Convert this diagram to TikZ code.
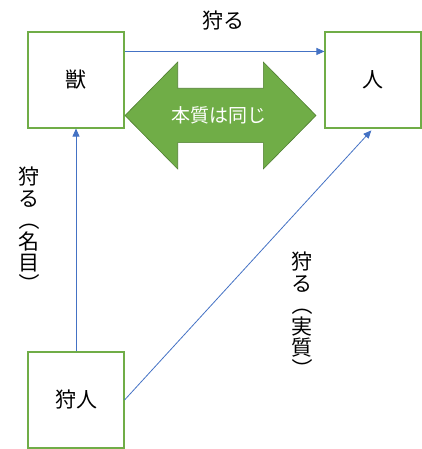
\documentclass[tikz,border=0pt]{standalone}
\usepackage{fontspec}
\setmainfont{Noto Sans CJK JP}
\usepackage{graphicx}
\usetikzlibrary{arrows.meta}
\definecolor{boxgreen}{HTML}{70AD47}
\definecolor{darkgreen}{HTML}{507E32}
\definecolor{arrblue}{HTML}{4472C4}
\newcommand{\vopen}{\rotatebox[origin=c]{-90}{（}}
\newcommand{\vclose}{\rotatebox[origin=c]{-90}{）}}
\begin{document}
\begin{tikzpicture}[x=1pt,y=-1pt,
  box/.style={draw=boxgreen,line width=1.1pt,minimum width=96pt,minimum height=96pt,inner sep=0pt,font=\fontsize{21}{21}\selectfont},
  arr/.style={draw=arrblue,line width=0.8pt,-{Triangle[length=8pt,width=7pt]}},
  lbl/.style={font=\fontsize{21}{21}\selectfont,inner sep=0pt},
  vlbl/.style={font=\fontsize{21}{21.5}\selectfont,align=center,inner sep=0pt}]
\useasboundingbox (0,0) rectangle (422,449);
\node[box] (beast) at (76,80) {獣};
\node[box] (human) at (373,80) {人};
\node[box] (hunter) at (76,400) {狩人};
\draw[arr] ([yshift=-20pt]beast.north east) -- ([yshift=-20pt]human.north west);
\draw[arr] (hunter.north) -- (beast.south);
\draw[arr, shorten >=2.5pt] (hunter.east) -- (human.south);
\node[lbl] (ltop) at (223,21) {狩る};
\node[vlbl] (lleft) at (29,231) {狩\\る\\\vopen\\名\\目\\\vclose};
\node[vlbl] (lright) at (302,316) {狩\\る\\\vopen\\実\\質\\\vclose};
\fill[boxgreen,draw=darkgreen,line width=0.6pt] (125,115.5) -- (177.7,62) -- (177.7,88.3) -- (263.3,88.3) -- (263.3,62) -- (316,115.5) -- (263.3,169) -- (263.3,142.7) -- (177.7,142.7) -- (177.7,169) -- cycle;
\node[font=\fontsize{19}{19}\selectfont,text=white,inner sep=0pt] (same) at (219,115.5) {本質は同じ};
\end{tikzpicture}
\end{document}
